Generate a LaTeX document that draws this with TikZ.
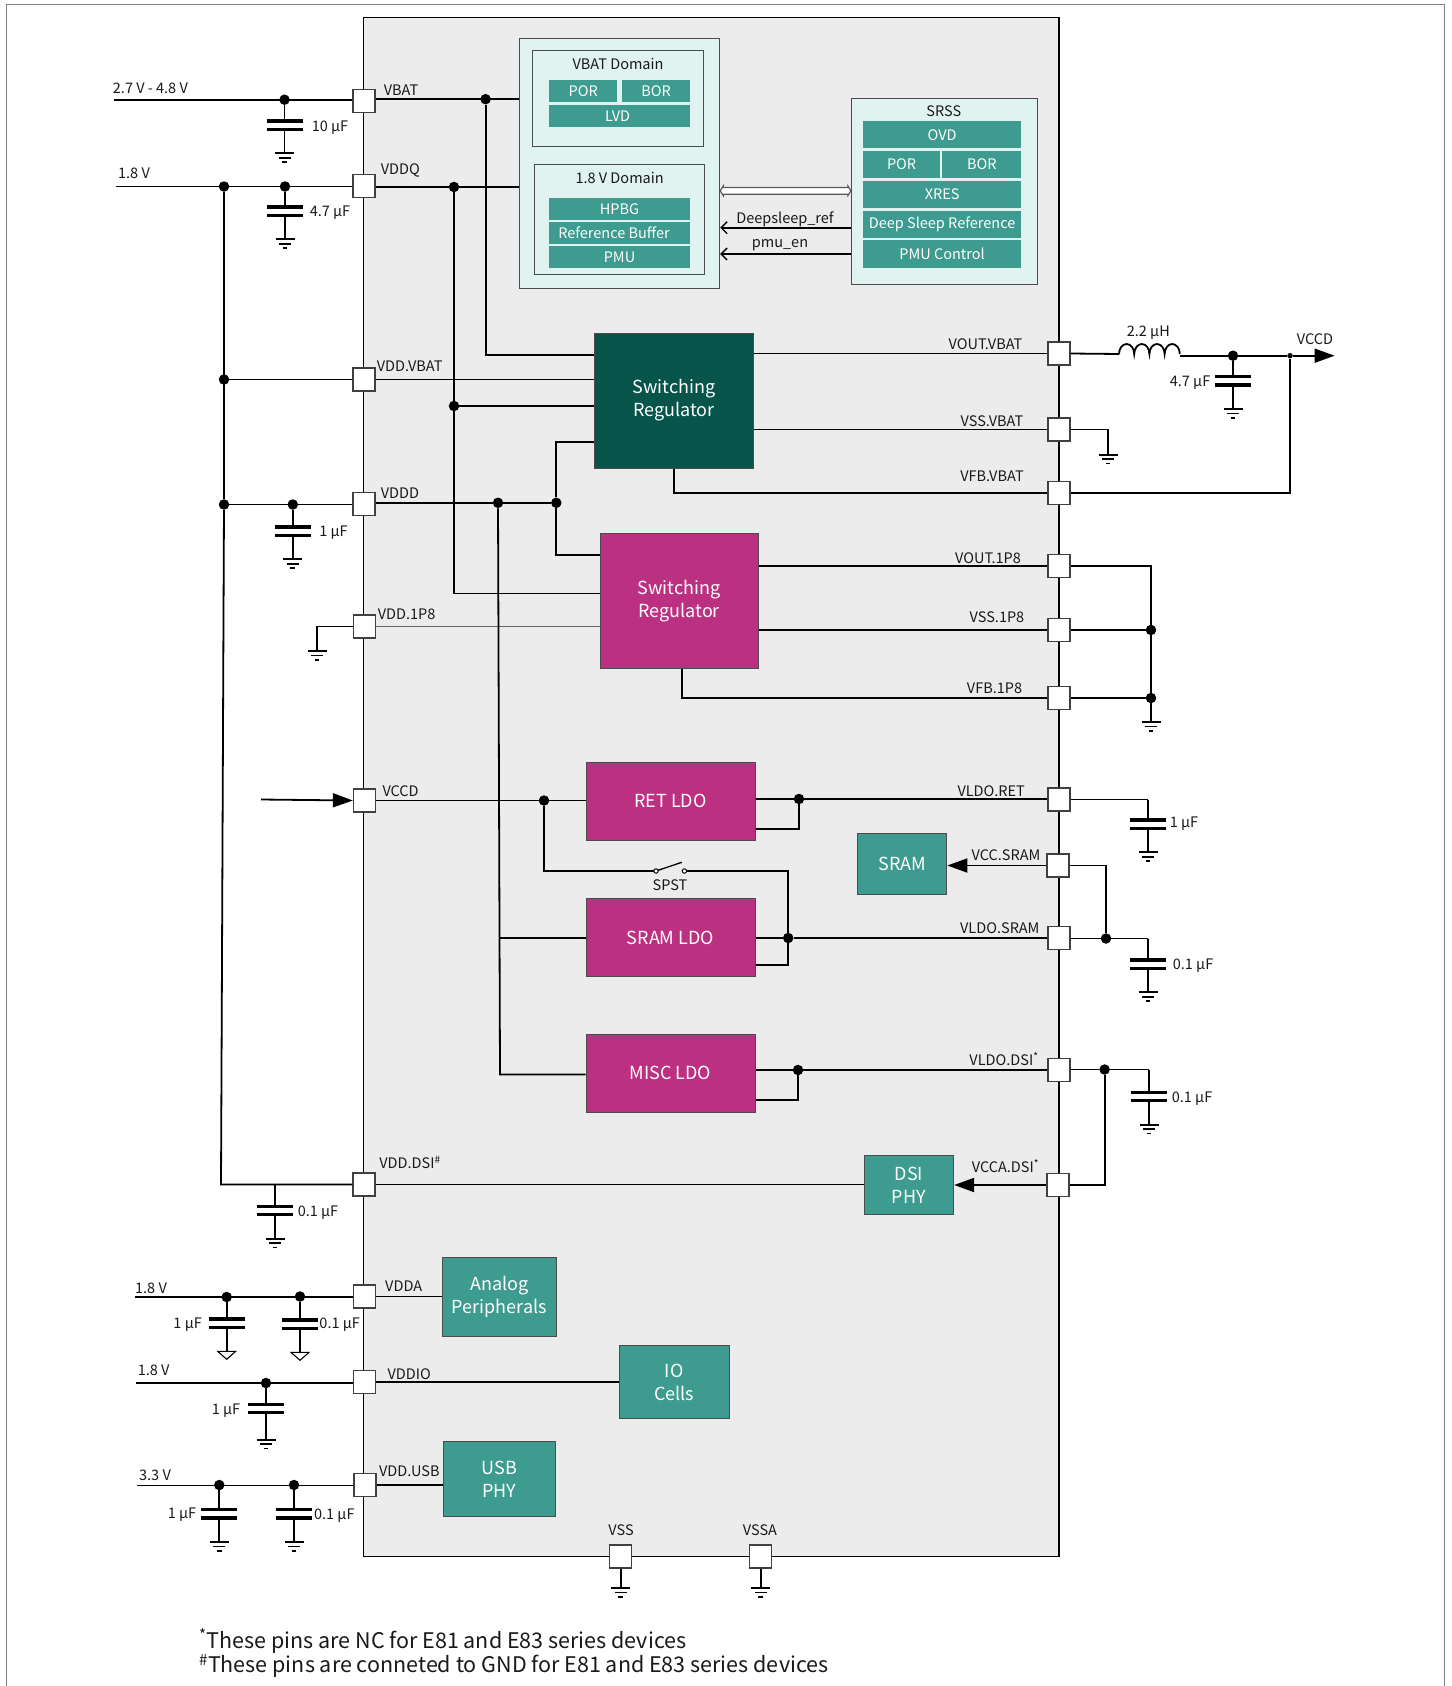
\documentclass[tikz,border=0pt]{standalone}
\usepackage{fontspec}
\setmainfont{Noto Sans CJK SC}
\usetikzlibrary{arrows.meta,calc}
\definecolor{chipgray}{HTML}{ECECEC}
\definecolor{paleteal}{HTML}{E0F3F1}
\definecolor{midteal}{HTML}{3D9B8F}
\definecolor{darkteal}{HTML}{07544A}
\definecolor{regpink}{HTML}{BC3081}
\tikzset{
  wire/.style = {line width=1.8pt, line join=miter},
  plate/.style = {line width=3.4pt},
  size/.style 2 args = {minimum width=#1pt, minimum height=#2pt},
  pin/.style = {rectangle, draw=black!75, fill=white, line width=1.3pt, inner sep=0pt, size={22}{23}},
  dot/.style = {circle, fill=black, inner sep=0pt, minimum size=10.5pt},
  smalldot/.style = {circle, fill=black, inner sep=0pt, minimum size=5.5pt},
  lbl/.style = {font=\fontsize{14.5}{16}\selectfont, inner sep=0pt, text=black!90},
  block/.style = {rectangle, draw=black!70, line width=1pt, inner sep=0pt, text=white, align=center,
                  font=\fontsize{18}{23}\selectfont},
  tealblock/.style = {block, fill=midteal},
  pinkblock/.style = {block, fill=regpink},
  darkblock/.style = {block, fill=darkteal},
  sub/.style = {rectangle, fill=midteal, inner sep=0pt, text=white, font=\fontsize{14.5}{16}\selectfont},
  panel/.style = {rectangle, draw=black!70, line width=.9pt, fill=paleteal, inner sep=0pt},
  bigtip/.style = {-{Triangle[length=20pt,width=14pt]}},
  smalltip/.style = {-{Straight Barb[length=6pt,width=12pt,line width=1.3pt]}}
}
% ground symbol below a coordinate
\newcommand{\GndSym}[1]{%
  \draw[wire] ($(#1)+(-9.5,0)$) -- ($(#1)+(9.5,0)$);
  \draw[wire] ($(#1)+(-6,4.4)$) -- ($(#1)+(6,4.4)$);
  \draw[wire] ($(#1)+(-2.4,8.8)$) -- ($(#1)+(2.4,8.8)$);
}
% capacitor hanging from node #2, named #3, upper plate at height #4, #1 = drop to ground
\newcommand{\CapStem}[4][24]{%
  \coordinate (#3a) at (#2 |- 0,#4);
  \coordinate (#3b) at ($(#3a)+(0,8.3)$);
  \coordinate (#3c) at ($(#3b)+(0,#1)$);
  \draw[wire] (#2) -- (#3a);
  \draw[plate] ($(#3a)+(-18,0)$) -- ($(#3a)+(18,0)$);
  \draw[plate] ($(#3b)+(-18,0)$) -- ($(#3b)+(18,0)$);
  \draw[wire] (#3b) -- (#3c);
}
\newcommand{\CapGnd}[4][24]{\CapStem[#1]{#2}{#3}{#4}\GndSym{#3c}}
\newcommand{\CapOpen}[3]{%
  \CapStem{#1}{#2}{#3}
  \draw[line width=1.1pt, fill=white] ($(#2c)+(-9,0)$) -- ($(#2c)+(9,0)$) -- ($(#2c)+(0,8)$) -- cycle;
}
\begin{document}
\begin{tikzpicture}[x=1pt,y=-1pt]
  \useasboundingbox (0,0) rectangle (1451,1686);
  % page frame and chip outline
  \draw[line width=1pt, black!50] (6,1686) -- (6,5) -- (1444.5,5) -- (1444.5,1686);
  \draw[line width=1.8pt, fill=chipgray] (363.5,17.5) rectangle (1059,1556.5);

  % power domains
  \node[panel, size={200.7}{249.3}] (vbatPanel) at (619.4,163.4) {};
  \node[panel, size={171}{96.4}] (vbatDom) at (618,98.5) {};
  \node[panel, size={170.3}{110.4}] (lowDom) at (619.6,219.5) {};
  \node[panel, size={185.7}{186}] (srss) at (944.2,191) {};
  \node[lbl] (vbatTitle) at (618,64) {VBAT Domain};
  \node[lbl] (lowTitle) at (619.6,178) {1.8 V Domain};
  \node[lbl] (srssTitle) at (943.8,110.7) {SRSS};
  \node[sub, size={68}{22}] (vbatPor) at (583.3,91) {POR};
  \node[sub, size={67.6}{22}] (vbatBor) at (656.2,91) {BOR};
  \node[sub, size={140.7}{22}] (vbatLvd) at (619.6,115.7) {LVD\kern4pt};
  \node[sub, size={141}{22}] (hpbg) at (619.5,209) {HPBG};
  \node[sub, size={141}{22}] (refBuf) at (619.5,233) {Reference Buffer\kern11pt};
  \node[sub, size={141}{22}] (lowPmu) at (619.5,256.8) {PMU};
  \node[sub, size={158.6}{27.3}] (ovd) at (942.1,134.7) {OVD};
  \node[sub, size={77.6}{27.3}] (srssPor) at (901.6,164.2) {POR};
  \node[sub, size={79.1}{27.3}] (srssBor) at (981.9,164.2) {BOR};
  \node[sub, size={158.6}{27.6}] (xres) at (942.1,194.5) {XRES};
  \node[sub, size={158.6}{27.4}] (deepRef) at (942.1,224.5) {Deep Sleep Reference};
  \node[sub, size={158.6}{27.7}] (pmuCtl) at (942.1,253.9) {PMU Control};

  % regulators, LDOs and loads
  \node[darkblock, size={159.1}{135}] (swA) at (674,400.5) {Switching\\Regulator};
  \node[pinkblock, size={158.3}{135.5}] (swB) at (679.2,601) {Switching\\Regulator};
  \node[pinkblock, size={169}{78.3}] (retLdo) at (670.5,801.2) {RET LDO};
  \node[pinkblock, size={169}{78.4}] (sramLdo) at (670.5,937.5) {SRAM LDO};
  \node[pinkblock, size={169}{78}] (miscLdo) at (670.5,1073) {MISC LDO};
  \node[tealblock, size={88.9}{61}] (sram) at (902.4,863.8) {SRAM};
  \node[tealblock, size={89.3}{59}] (dsiPhy) at (909,1184.8) {DSI\\PHY};
  \node[tealblock, size={113.7}{78.3}] (analog) at (499.2,1296.9) {Analog\\Peripherals};
  \node[tealblock, size={109.5}{73}] (ioCells) at (674.3,1382.2) {IO\\Cells};
  \node[tealblock, size={111.3}{75.2}] (usbPhy) at (499.4,1478.9) {USB\\PHY};

  % pins
  \node[pin] (pVbat) at (364,100.8) {};
  \node[pin] (pVddq) at (364,186) {};
  \node[pin] (pVddVbat) at (364,379.5) {};
  \node[pin] (pVddd) at (364,503.7) {};
  \node[pin] (pVdd1p8) at (364.5,626.5) {};
  \node[pin] (pVccd) at (364.5,800.5) {};
  \node[pin] (pVddDsi) at (364,1184.5) {};
  \node[pin] (pVdda) at (364.5,1296.5) {};
  \node[pin] (pVddio) at (364.5,1382) {};
  \node[pin] (pVddUsb) at (365,1485) {};
  \node[pin] (pVoutV) at (1059,353.5) {};
  \node[pin] (pVssV) at (1059,429.5) {};
  \node[pin] (pVfbV) at (1059,493) {};
  \node[pin] (pVout18) at (1059,566) {};
  \node[pin] (pVss18) at (1059,630) {};
  \node[pin] (pVfb18) at (1059,698) {};
  \node[pin] (pLdoRet) at (1059,799.5) {};
  \node[pin] (pVccSram) at (1058,865.5) {};
  \node[pin] (pLdoSram) at (1059,938) {};
  \node[pin] (pLdoDsi) at (1059,1070) {};
  \node[pin] (pVccaDsi) at (1058,1185) {};
  \node[pin] (pVss) at (620.8,1556.5) {};
  \node[pin] (pVssa) at (760.8,1556.5) {};

  % junctions
  \node[dot] (dVbatC) at (284.5,99.7) {};
  \node[dot] (dVbatI) at (485.6,99.2) {};
  \node[dot] (dQrail) at (224,186.5) {};
  \node[dot] (dQcap) at (285,186.5) {};
  \node[dot] (dQin) at (454,187) {};
  \node[dot] (dQsw) at (454,406) {};
  \node[dot] (dRailV) at (224,379.5) {};
  \node[dot] (dRailD) at (224,504.5) {};
  \node[dot] (dDcap) at (292.8,504.5) {};
  \node[dot] (dDldo) at (498,502.8) {};
  \node[dot] (dDsw) at (556.3,502.8) {};
  \node[dot] (dCcd) at (544,800.5) {};
  \node[dot] (dRetOut) at (799,799) {};
  \node[dot] (dSramOut) at (788.2,938) {};
  \node[dot] (dMiscOut) at (798,1070) {};
  \node[dot] (dSramC) at (1106,938.5) {};
  \node[dot] (dDsiC) at (1104.6,1069.5) {};
  \node[dot] (dOutC) at (1233,355.7) {};
  \node[smalldot] (dOutFb) at (1290,355.7) {};
  \node[dot] (d18a) at (1151,630) {};
  \node[dot] (d18b) at (1151,698) {};
  \node[dot] (dAa) at (226.7,1297) {};
  \node[dot] (dAb) at (300,1296.5) {};
  \node[dot] (dIo) at (266,1383) {};
  \node[dot] (dUa) at (219.3,1485) {};
  \node[dot] (dUb) at (294,1485) {};

  % free ends
  \coordinate (inVbat) at (113.5,99.7);
  \coordinate (inVddq) at (115.5,186.5);
  \coordinate (inVdda) at (135,1297);
  \coordinate (inVddio) at (135.7,1383);
  \coordinate (inVddUsb) at (136.7,1485.4);
  \coordinate (inVccd) at (261,799.5);
  \coordinate (outVccd) at (1334.6,355.7);
  \coordinate (railLow) at (221,1184.5);
  \coordinate (capDsi) at (275,1184.5);
  \coordinate (ldoRail) at (500,938);
  \coordinate (lStart) at (1119,354);
  \coordinate (lEnd) at (1180,355.7);
  \coordinate (gndVss) at (1108,454.7);
  \coordinate (gnd18) at (1151,722);
  \coordinate (gnd1p8) at (317,651);
  \coordinate (gndChip) at (620.8,1588);
  \coordinate (gndChipA) at (760.8,1588);
  \coordinate (swIn) at (656,871);
  \coordinate (swOut) at (684.4,871);
  \coordinate (linkL) at (vbatPanel.east |- 0,190.8);
  \coordinate (linkR) at (srss.west |- 0,190.8);

  % input rails
  \draw[wire] (inVbat) -- (pVbat.west |- inVbat);
  \draw[wire] (inVddq) -- (pVddq.west |- inVddq);
  \draw[wire] (dRailV) -- (pVddVbat.west);
  \draw[wire] (dRailD) -- (pVddd.west |- dRailD);
  \draw[wire] (dQrail) -- (dRailD) -- (railLow) -- (pVddDsi.west);
  \draw[wire] (pVdd1p8.west) -| (gnd1p8);
  \GndSym{gnd1p8}
  \draw[wire,bigtip] (inVccd) -- (pVccd.west);
  \draw[wire] (inVdda) -- (pVdda.west |- inVdda);
  \draw[wire] (inVddio) -- (pVddio.west |- inVddio);
  \draw[wire] (inVddUsb) -- (pVddUsb.west |- inVddUsb);
  \CapGnd{dVbatC}{cVbat}{121}
  \CapGnd{dQcap}{cVddq}{207}
  \CapGnd{dDcap}{cVddd}{527}
  \CapGnd{capDsi}{cDsi}{1206.4}
  \CapOpen{dAa}{cAa}{1319}
  \CapOpen{dAb}{cAb}{1320}
  \CapGnd[27]{dIo}{cIo}{1404.4}
  \CapGnd{dUa}{cUa}{1509.7}
  \CapGnd{dUb}{cUb}{1509.7}

  % inside, left
  \draw[wire] (pVbat.east |- dVbatI) -- (vbatPanel.west |- dVbatI);
  \draw[wire] (dVbatI) |- (swA.west |- 0,355.3);
  \draw[wire] (pVddq.east |- dQin) -- (vbatPanel.west |- dQin);
  \draw[wire] (dQin) |- (swB.west |- 0,593.5);
  \draw[wire] (dQsw) -- (swA.west |- dQsw);
  \draw[wire] (pVddVbat.east) -- (swA.west |- pVddVbat);
  \draw[wire] (pVddd.east |- dDsw) -- (dDsw);
  \draw[wire] (dDsw) |- (swA.west |- 0,442);
  \draw[wire] (dDsw) |- (swB.west |- 0,555);
  \draw[wire, black!60] (pVdd1p8.east) -- (swB.west |- pVdd1p8);
  \draw[wire] (dDldo) -- (500,1074.5) -- (miscLdo.west |- 0,1074.5);
  \draw[wire] (ldoRail) -- (sramLdo.west |- ldoRail);
  \draw[wire] (pVccd.east) -- (retLdo.west |- pVccd);
  \draw[wire] (pVddDsi.east) -- (dsiPhy.west |- pVddDsi);
  \draw[wire] (pVdda.east) -- (analog.west |- pVdda);
  \draw[wire] (pVddio.east) -- (ioCells.west |- pVddio);
  \draw[wire] (pVddUsb.east) -- (usbPhy.west |- pVddUsb);

  % switch
  \draw[wire] (dCcd) |- (swIn);
  \draw[line width=1.3pt] (swIn) -- ($(swOut)+(-2.6,-8.7)$);
  \draw[wire] (swOut) -| (dSramOut);
  \draw[line width=1pt, fill=white] (swIn) circle[radius=2.2pt];
  \draw[line width=1pt, fill=white] (swOut) circle[radius=2.2pt];

  % domain links
  \draw[line width=1.2pt, black!65, fill=white] (linkL) -- ($(linkL)+(3,-4.8)$) -- ($(linkL)+(3,-3.4)$)
    -- ($(linkR)+(-3,-3.4)$) -- ($(linkR)+(-3,-4.8)$) -- (linkR) -- ($(linkR)+(-3,4.8)$) -- ($(linkR)+(-3,3.4)$)
    -- ($(linkL)+(3,3.4)$) -- ($(linkL)+(3,4.8)$) -- cycle;
  \draw[wire,smalltip] (srss.west |- 0,227.7) -- (vbatPanel.east |- 0,227.7);
  \draw[wire,smalltip] (srss.west |- 0,254) -- (vbatPanel.east |- 0,254);

  % outputs
  \draw[wire] (swA.east |- pVoutV) -- (pVoutV.west);
  \draw[wire] (swA.east |- pVssV) -- (pVssV.west);
  \draw[wire] (swA.south) |- (pVfbV.west);
  \draw[wire] (pVoutV.east) -- (lStart);
  \draw[wire] (lStart) arc[start angle=180,end angle=0,x radius=7.6pt,y radius=10pt]
    arc[start angle=180,end angle=0,x radius=7.6pt,y radius=10pt]
    arc[start angle=180,end angle=0,x radius=7.6pt,y radius=10pt]
    arc[start angle=180,end angle=0,x radius=7.6pt,y radius=10pt];
  \draw[wire] (lEnd) -- (dOutC) -- (dOutFb);
  \draw[wire,bigtip] (dOutFb) -- (outVccd);
  \draw[wire] (pVfbV.east) -| (dOutFb);
  \CapGnd{dOutC}{cOut}{376.7}
  \draw[wire] (pVssV.east) -| (gndVss);
  \GndSym{gndVss}
  \draw[wire] (swB.east |- pVout18) -- (pVout18.west);
  \draw[wire] (swB.east |- pVss18) -- (pVss18.west);
  \draw[wire] (682,0 |- swB.south) |- (pVfb18.west);
  \draw[wire] (pVout18.east) -| (d18a);
  \draw[wire] (pVss18.east) -- (d18a) -- (d18b) -- (gnd18);
  \draw[wire] (pVfb18.east) -- (d18b);
  \GndSym{gnd18}

  % LDO outputs
  \draw[wire] (retLdo.east |- dRetOut) -- (dRetOut) -- (pLdoRet.west |- dRetOut);
  \draw[wire] (retLdo.east |- 0,829) -| (dRetOut);
  \draw[wire] (sramLdo.east |- dSramOut) -- (dSramOut) -- (pLdoSram.west);
  \draw[wire] (sramLdo.east |- 0,964.7) -| (dSramOut);
  \draw[wire] (miscLdo.east |- dMiscOut) -- (dMiscOut) -- (pLdoDsi.west);
  \draw[wire] (miscLdo.east |- 0,1100) -| (dMiscOut);
  \draw[wire,bigtip] (pVccSram.west) -- (sram.east |- pVccSram);
  \draw[wire,bigtip] (pVccaDsi.west) -- (dsiPhy.east |- pVccaDsi);
  \coordinate (capRet) at (1148,799.5);
  \coordinate (capSram) at (1148,938.5);
  \coordinate (capDsiOut) at (1149,1069.5);
  \draw[wire] (pLdoRet.east) -- (capRet);
  \draw[wire] (pLdoSram.east |- dSramC) -- (dSramC) -- (capSram);
  \draw[wire] (pLdoDsi.east |- dDsiC) -- (dDsiC) -- (capDsiOut);
  \draw[wire] (pVccSram.east) -| (dSramC);
  \draw[wire] (pVccaDsi.east) -| (dDsiC);
  \CapGnd{capRet}{cRet}{820}
  \CapGnd{capSram}{cSram}{960}
  \CapGnd{capDsiOut}{cDsiOut}{1092.3}

  % chip ground pins
  \draw[wire] (pVss.south) -- (gndChip);
  \GndSym{gndChip}
  \draw[wire] (pVssa.south) -- (gndChipA);
  \GndSym{gndChipA}

  % labels, left
  \node[lbl] (tVin) at (150.4,88) {2.7 V - 4.8 V};
  \node[lbl] (tQin) at (134,173) {1.8 V};
  \node[lbl] (tCbat) at (330,128) {10 µF};
  \node[lbl] (tCq) at (330,213) {4.7 µF};
  \node[lbl] (tCd) at (333.5,533) {1 µF};
  \node[lbl] (tCdsi) at (318,1213) {0.1 µF};
  \node[lbl] (tAin) at (151,1288) {1.8 V};
  \node[lbl] (tCa) at (187.7,1325) {1 µF};
  \node[lbl] (tCb) at (339.7,1325) {0.1 µF};
  \node[lbl] (tIoIn) at (153.7,1370) {1.8 V};
  \node[lbl] (tCio) at (226,1411) {1 µF};
  \node[lbl] (tUin) at (155,1475) {3.3 V};
  \node[lbl] (tCua) at (182,1515) {1 µF};
  \node[lbl] (tCub) at (334.3,1516) {0.1 µF};

  % labels, pins
  \node[lbl] (tVbat) at (401,90) {VBAT};
  \node[lbl] (tVddq) at (400.4,170.5) {VDDQ};
  \node[lbl] (tVddVbat) at (409.7,366.7) {VDD.VBAT};
  \node[lbl] (tVddd) at (400,492.7) {VDDD};
  \node[lbl] (tVdd1p8) at (406.6,614) {VDD.1P8};
  \node[lbl] (tVccd) at (400.6,791) {VCCD};
  \node[lbl] (tVddDsi) at (410,1162.6) {VDD.DSI\textsuperscript{\#}};
  \node[lbl] (tVdda) at (403.7,1285.7) {VDDA};
  \node[lbl] (tVddio) at (409.3,1374) {VDDIO};
  \node[lbl] (tVddUsb) at (409.3,1470.7) {VDD.USB};
  \node[lbl] (tVoutV) at (985.5,343.7) {VOUT.VBAT};
  \node[lbl] (tVssV) at (992,421) {VSS.VBAT};
  \node[lbl] (tVfbV) at (992,476.2) {VFB.VBAT};
  \node[lbl] (tVout18) at (988,558) {VOUT.1P8};
  \node[lbl] (tVss18) at (997,617.4) {VSS.1P8};
  \node[lbl] (tVfb18) at (994.5,687.8) {VFB.1P8};
  \node[lbl] (tLdoRet) at (991.2,791) {VLDO.RET};
  \node[lbl] (tVccSram) at (1006,855) {VCC.SRAM};
  \node[lbl] (tLdoSram) at (999.8,928) {VLDO.SRAM};
  \node[lbl] (tLdoDsi) at (1004,1059) {VLDO.DSI\textsuperscript{*}};
  \node[lbl] (tVccaDsi) at (1005.5,1166) {VCCA.DSI\textsuperscript{*}};
  \node[lbl] (tVss) at (621,1530) {VSS};
  \node[lbl] (tVssa) at (760,1530) {VSSA};
  \node[lbl] (tDeep) at (785,219.5) {Deepsleep\_ref};
  \node[lbl] (tPmu) at (780,245.5) {pmu\_en};
  \node[lbl] (tSpst) at (670,885) {SPST};

  % labels, right
  \node[lbl] (tInd) at (1148.3,333) {2.2 µH};
  \node[lbl] (tOut) at (1315,338.7) {VCCD};
  \node[lbl] (tCout) at (1190,383) {4.7 µF};
  \node[lbl] (tCret) at (1184,824) {1 µF};
  \node[lbl] (tCsram) at (1193,966) {0.1 µF};
  \node[lbl] (tCdsiOut) at (1192,1099) {0.1 µF};

  % notes
  \node[lbl, anchor=west, font=\fontsize{21.5}{25}\selectfont] (noteA) at (199,1641) {\textsuperscript{*}These pins are NC for E81 and E83 series devices};
  \node[lbl, anchor=west, font=\fontsize{21.5}{25}\selectfont] (noteB) at (199,1666) {\textsuperscript{\#}These pins are conneted to GND for E81 and E83 series devices};
\end{tikzpicture}
\end{document}
